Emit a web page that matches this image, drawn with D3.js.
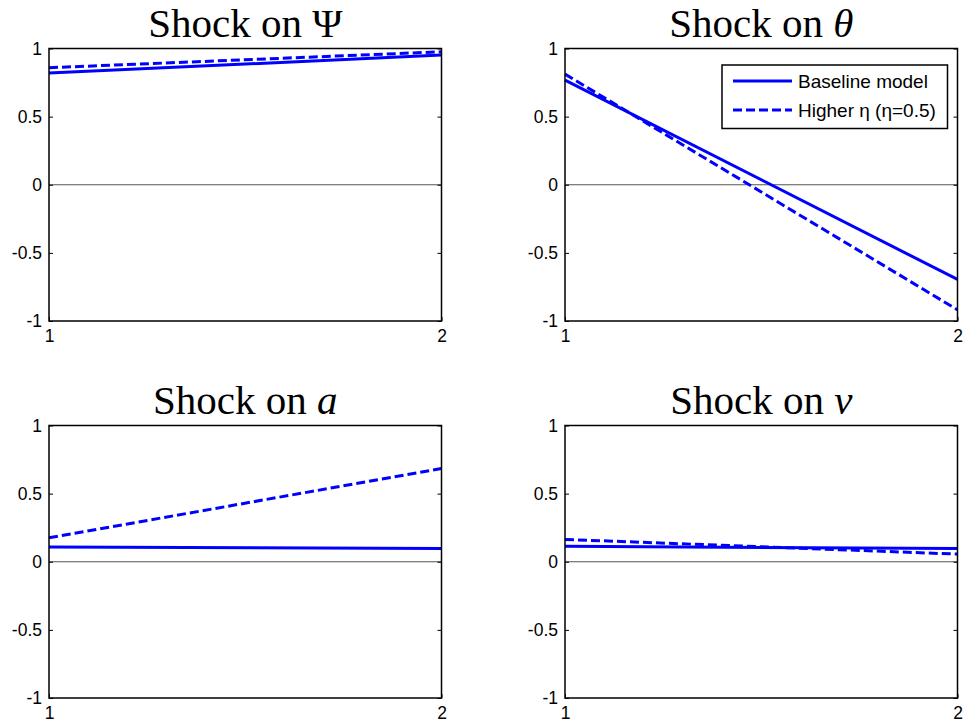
<!DOCTYPE html>
<html>
<head>
<meta charset="utf-8">
<script src="https://cdn.jsdelivr.net/npm/d3@7"></script>
<style>
  body { margin: 0; background: #fff; }
  svg { display: block; }
</style>
</head>
<body>
<div id="chart"></div>
<script>
// periods on the x axis
const periods = [1, 2];
const yTicks = [-1, -0.5, 0, 0.5, 1];
const xTicks = [1, 2];

// panel titles: plain part + math symbol (italic or not)
const titleText = ['Shock on ', 'Shock on ', 'Shock on ', 'Shock on '];
const titleSymbol = ['\u03A8', '\u03B8', 'a', 'v'];
const symbolItalic = [false, true, true, true];

// responses, one value per period
const baselinePsi = [0.82, 0.952];
const baselineTheta = [0.768, -0.695];
const baselineA = [0.108, 0.098];
const baselineV = [0.113, 0.098];

const higherEtaPsi = [0.859, 0.976];
const higherEtaTheta = [0.812, -0.918];
const higherEtaA = [0.176, 0.684];
const higherEtaV = [0.164, 0.056];

const legendLabels = ['Baseline model', 'Higher \u03B7 (\u03B7=0.5)'];

const baseline = [baselinePsi, baselineTheta, baselineA, baselineV];
const higherEta = [higherEtaPsi, higherEtaTheta, higherEtaA, higherEtaV];

const width = 966, height = 726;
const svg = d3.select('#chart').append('svg')
    .attr('width', width).attr('height', height);

// axes boxes: left, top, width, height
const cols = [49, 565];
const rows = [48.5, 425.5];
const pw = 392.5, ph = 272.5;
const blue = '#0000ff';

const panels = baseline.map((b, i) => ({
    left: cols[i % 2],
    top: rows[Math.floor(i / 2)],
    base: b,
    eta: higherEta[i],
    i: i
}));

panels.forEach((p) => {
    const g = svg.append('g').attr('transform', `translate(${p.left},${p.top})`);
    const x = d3.scaleLinear().domain([1, 2]).range([0, pw]);
    const y = d3.scaleLinear().domain([-1, 1]).range([ph, 0]);

    // zero line
    g.append('line')
        .attr('x1', x(1)).attr('x2', x(2))
        .attr('y1', y(0)).attr('y2', y(0))
        .attr('stroke', '#555').attr('stroke-width', 1);

    const line = d3.line()
        .x((d, k) => x(periods[k]))
        .y((d) => y(d));

    g.append('path')
        .datum(p.eta)
        .attr('d', line)
        .attr('fill', 'none')
        .attr('stroke', blue)
        .attr('stroke-width', 3)
        .attr('stroke-dasharray', '9,4');

    g.append('path')
        .datum(p.base)
        .attr('d', line)
        .attr('fill', 'none')
        .attr('stroke', blue)
        .attr('stroke-width', 3);

    // axes, ticks pointing inward
    const yl = g.append('g')
        .call(d3.axisLeft(y).tickValues(yTicks).tickSizeInner(-4).tickSizeOuter(0)
            .tickPadding(7).tickFormat((d) => String(d)));
    const yr = g.append('g').attr('transform', `translate(${pw},0)`)
        .call(d3.axisRight(y).tickValues(yTicks).tickSizeInner(-4).tickSizeOuter(0)
            .tickFormat(''));
    const xb = g.append('g').attr('transform', `translate(0,${ph})`)
        .call(d3.axisBottom(x).tickValues(xTicks).tickSizeInner(-4).tickSizeOuter(0)
            .tickPadding(9).tickFormat((d) => String(d)));
    [yl, yr, xb].forEach((a) => {
        a.select('.domain').remove();
        a.selectAll('line').attr('stroke', '#000');
        a.selectAll('text')
            .attr('fill', '#000')
            .style('font-family', '"Liberation Sans", Arial, sans-serif')
            .style('font-size', '17.5px');
    });

    g.append('rect')
        .attr('width', pw).attr('height', ph)
        .attr('fill', 'none')
        .attr('stroke', '#000').attr('stroke-width', 1.5);

    // title
    const t = g.append('text')
        .attr('x', pw / 2).attr('y', -11.5)
        .attr('text-anchor', 'middle')
        .style('font-family', '"Liberation Serif", "Times New Roman", serif')
        .style('font-size', '41px')
        .attr('fill', '#000');
    t.append('tspan').text(titleText[p.i]);
    t.append('tspan').text(titleSymbol[p.i])
        .style('font-style', symbolItalic[p.i] ? 'italic' : 'normal');
});

// legend in the theta panel
const lg = svg.append('g').attr('transform', 'translate(722,65)');
lg.append('rect')
    .attr('width', 225.5).attr('height', 63.5)
    .attr('fill', '#fff').attr('stroke', '#000').attr('stroke-width', 1.5);
legendLabels.forEach((lab, k) => {
    const yy = 16 + k * 29;
    lg.append('line')
        .attr('x1', 11).attr('x2', 70)
        .attr('y1', yy).attr('y2', yy)
        .attr('stroke', blue).attr('stroke-width', 3)
        .attr('stroke-dasharray', k === 1 ? '9,4' : null);
    lg.append('text')
        .attr('x', 76).attr('y', yy)
        .attr('dy', '0.35em')
        .style('font-family', '"Liberation Sans", Arial, sans-serif')
        .style('font-size', '19px')
        .text(lab);
});
</script>
</body>
</html>
